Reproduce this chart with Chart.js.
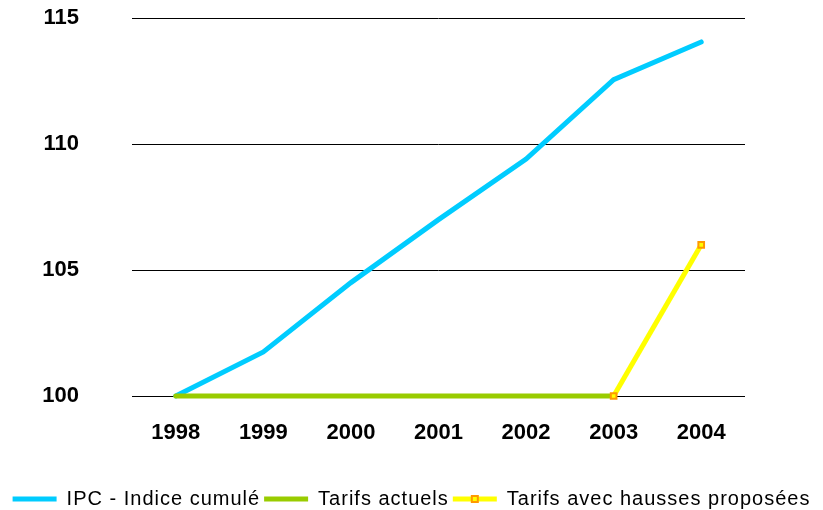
<!DOCTYPE html>
<html>
<head>
<meta charset="utf-8">
<script src="https://cdn.jsdelivr.net/npm/chart.js@4/dist/chart.umd.min.js"></script>
<style>
  html, body { margin: 0; padding: 0; background: #fff; }
  #wrap { width: 823px; height: 510px; }
</style>
</head>
<body>
<div id="wrap"><canvas id="myChart"></canvas></div>
<script>
const annees = ['1998', '1999', '2000', '2001', '2002', '2003', '2004'];
const ipc = [100, 101.75, 104.5, 107.0, 109.4, 112.55, 114.05];
const tarifsActuels = [100, 100, 100, 100, 100, 100, null];
const tarifsHausses = [null, null, null, null, null, 100, 106];
const ticksY = [100, 105, 110, 115];

const ctx = document.getElementById('myChart');

// petit carré orange au milieu du trait de la 3e légende
const markerLegende = {
    id: 'markerLegende',
    afterDraw(chart) {
        const boxes = chart.legend.legendHitBoxes;
        if (!boxes || !boxes[2]) return;
        const b = boxes[2];
        const c = chart.ctx;
        const cx = b.left + 22;
        const cy = b.top + b.height / 2;
        c.save();
        c.fillStyle = '#ffff00';
        c.strokeStyle = '#ff9900';
        c.lineWidth = 2;
        c.fillRect(cx - 3, cy - 3, 6, 6);
        c.strokeRect(cx - 3, cy - 3, 6, 6);
        c.restore();
    }
};

const chart = new Chart(ctx, {
    type: 'line',
    data: {
        labels: annees,
        datasets: [{
            label: 'IPC - Indice cumulé',
            data: ipc,
            borderColor: '#00ccff',
            backgroundColor: '#00ccff',
            borderWidth: 5,
            pointRadius: 0,
            borderCapStyle: 'round',
            order: 3,
            clip: 10,
            fill: false
        }, {
            label: 'Tarifs actuels',
            data: tarifsActuels,
            borderColor: '#99cc00',
            backgroundColor: '#99cc00',
            borderWidth: 5,
            pointRadius: 0,
            borderCapStyle: 'round',
            order: 2,
            clip: 10,
            fill: false
        }, {
            label: 'Tarifs avec hausses proposées',
            data: tarifsHausses,
            borderColor: '#ffff00',
            backgroundColor: '#ffff00',
            borderWidth: 5,
            pointStyle: 'rect',
            pointRadius: 4,
            pointBorderWidth: 2,
            pointBackgroundColor: '#ffff00',
            pointBorderColor: '#ff9900',
            order: 1,
            clip: 10,
            fill: false
        }]
    },
    options: {
        responsive: true,
        maintainAspectRatio: false,
        animation: false,
        layout: {
            padding: { left: 0, right: 0, top: 18, bottom: 0 }
        },
        plugins: {
            tooltip: { enabled: false },
            legend: {
                position: 'bottom',
                labels: {
                    color: '#000',
                    font: { family: 'Liberation Sans', size: 20 },
                    boxWidth: 44,
                    boxHeight: 5,
                    padding: 4,
                    generateLabels(chart) {
                        return chart.data.datasets.map((ds, i) => ({
                            text: ds.label,
                            fillStyle: ds.borderColor,
                            strokeStyle: ds.borderColor,
                            lineWidth: 0,
                            datasetIndex: i
                        }));
                    }
                }
            }
        },
        scales: {
            x: {
                offset: true,
                grid: { display: false },
                border: { display: false },
                ticks: {
                    color: '#000',
                    padding: 16,
                    font: { family: 'Liberation Sans', size: 22, weight: 'bold' }
                },
                afterFit(axis) {
                    axis.height = 89;
                }
            },
            y: {
                min: 100,
                max: 115,
                afterBuildTicks(axis) {
                    axis.ticks = ticksY.map(v => ({ value: v }));
                },
                afterFit(axis) {
                    axis.width = 132;
                    axis.paddingTop = 0;
                    axis.paddingBottom = 0;
                },
                grid: { color: '#000', lineWidth: 1, drawTicks: false },
                border: { display: false },
                ticks: {
                    color: '#000',
                    padding: 53,
                    font: { family: 'Liberation Sans', size: 22, weight: 'bold' }
                }
            },
            // axe vide à droite pour laisser la marge
            marge: {
                position: 'right',
                grid: { display: false },
                border: { display: false },
                ticks: { display: false },
                afterFit(axis) {
                    axis.width = 78;
                    axis.paddingTop = 0;
                    axis.paddingBottom = 0;
                }
            }
        }
    },
    plugins: [markerLegende]
});

// texte de légende un peu plus espacé, comme dans l'original
const lg = chart.legend;
const fitOrig = lg.fit;
const drawOrig = lg.draw;
lg.fit = function () {
    this.ctx.letterSpacing = '1px';
    fitOrig.call(this);
    this.ctx.letterSpacing = '0px';
    this.height = 25;
};
lg.draw = function () {
    this.ctx.letterSpacing = '1px';
    drawOrig.call(this);
    this.ctx.letterSpacing = '0px';
};
chart.update();
</script>
</body>
</html>
